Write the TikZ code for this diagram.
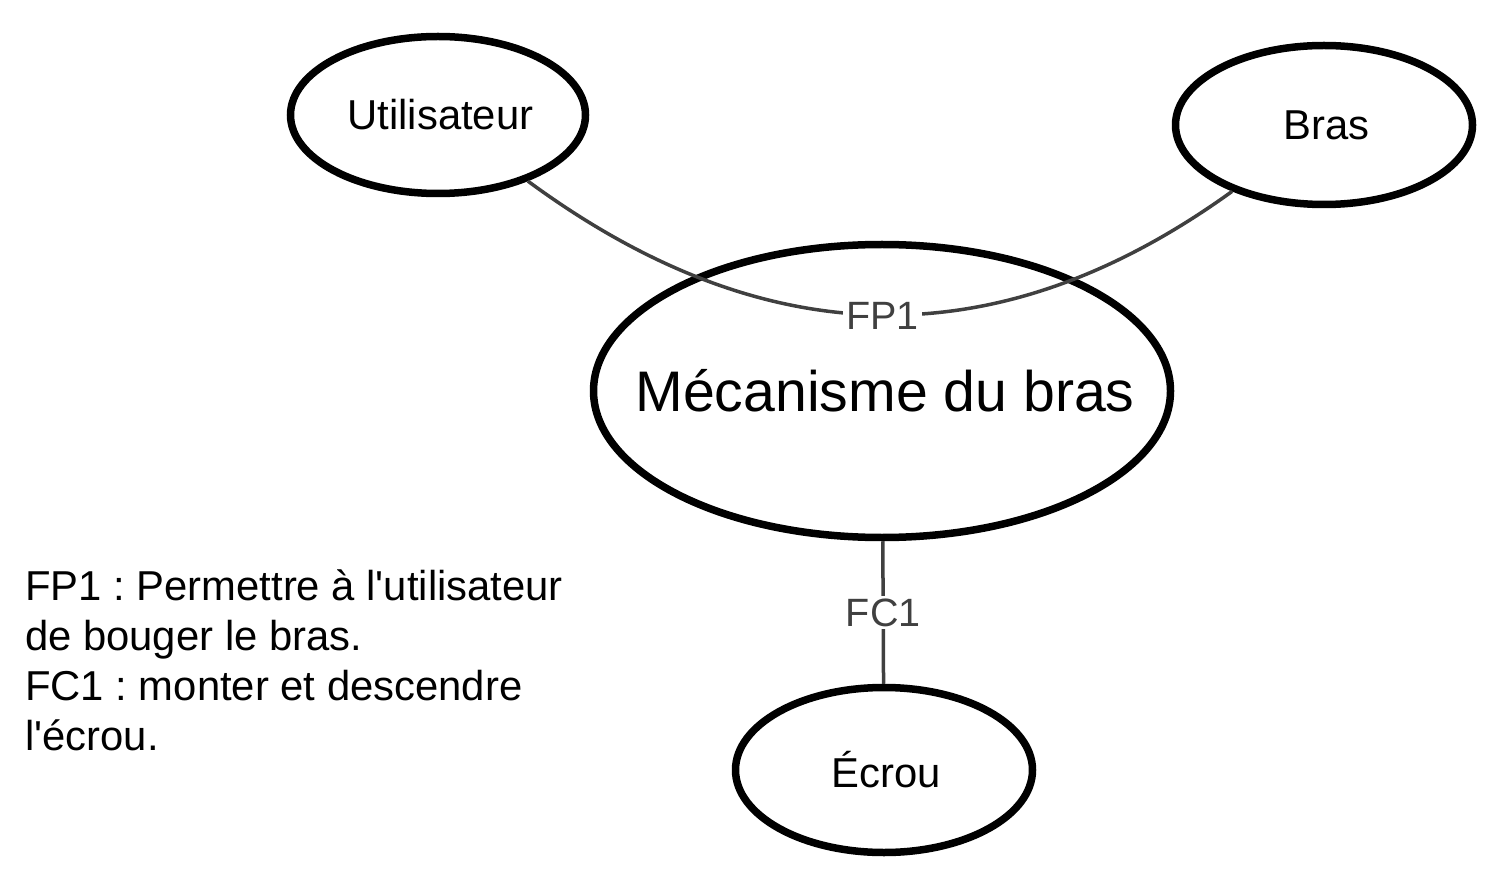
\documentclass[tikz,border=0pt]{standalone}
\usepackage{fontspec}
\setmainfont{Liberation Sans}
\usetikzlibrary{shapes.geometric}
\definecolor{edgegray}{HTML}{404040}
\tikzset{
  bubble/.style={ellipse, draw=black, line width=7.5pt, inner sep=0pt, fill=none},
  smallfont/.style={font=\fontsize{41.8}{50}\selectfont},
  link/.style={draw=edgegray, line width=3.5pt},
  linklabel/.style={fill=white, text=edgegray, inner sep=3pt, font=\fontsize{39.5}{46}\selectfont},
}
\frenchspacing
\begin{document}
\begin{tikzpicture}[x=1pt,y=-1pt]
\useasboundingbox (0,0) rectangle (1504,882);
\node[bubble, smallfont, minimum width=295pt, minimum height=157pt] (u) at (438,115) {\makebox[0pt]{\hspace{5pt}Utilisateur}};
\node[bubble, smallfont, minimum width=297pt, minimum height=159pt] (b) at (1324,125) {\makebox[0pt]{\hspace{5pt}Bras}};
\node[bubble, font=\fontsize{57.2}{66}\selectfont, minimum width=577pt, minimum height=293pt] (m) at (882,391) {\makebox[0pt]{\hspace{6pt}Mécanisme du bras}};
\node[bubble, smallfont, minimum width=297pt, minimum height=165pt] (e) at (884,770) {\makebox[0pt]{\hspace{4pt}Écrou}};
\draw[link] (u) .. controls (767,357) and (1000,359) .. node[linklabel, pos=0.5, yshift=-1pt] (fp) {FP1} (b);
\draw[link] (m) -- node[linklabel, pos=0.5] (fc) {FC1} (e);
\node[smallfont, anchor=north west, inner sep=0pt, align=left] (legend) at (25,570) {FP1 : Permettre à l\textquotesingle utilisateur\\de bouger le bras.\\FC1 : monter et descendre\\l\textquotesingle écrou.};
\end{tikzpicture}
\end{document}
